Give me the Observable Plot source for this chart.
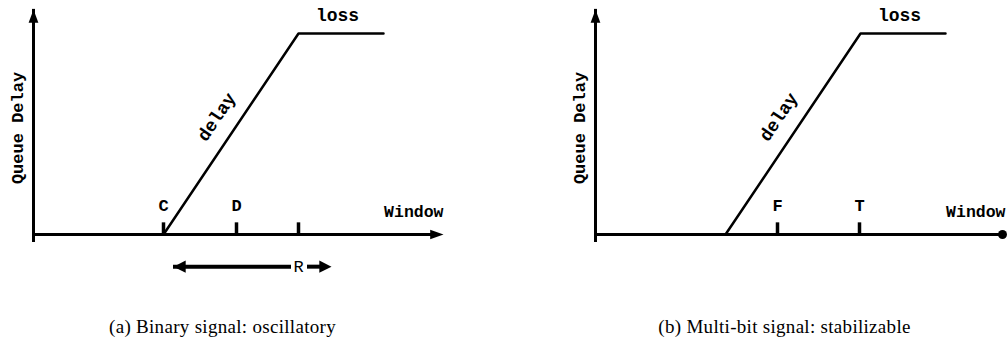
<!DOCTYPE html>
<html>
<head>
<meta charset="utf-8">
<script src="https://cdn.jsdelivr.net/npm/d3@7"></script>
<script src="https://cdn.jsdelivr.net/npm/@observablehq/plot@0.6"></script>
<style>
  html, body { margin: 0; padding: 0; background: #fff; }
  #figure { position: relative; width: 1007px; height: 344px; overflow: hidden; }
  .panel { position: absolute; top: 0; width: 445px; }
  .panel svg { display: block; overflow: visible; }
  .caption {
    margin-top: 16px;
    text-align: center;
    font-family: "Liberation Serif", "DejaVu Serif", serif;
    font-size: 19px;
    letter-spacing: 0.3px;
    line-height: 22px;
    color: #000;
    white-space: nowrap;
  }
</style>
</head>
<body>
<div id="figure"></div>
<script>
// Queue delay as a function of the congestion window: flat until the
// bottleneck fills, then rising linearly until the buffer overflows (loss).
const windowPts = [13, 26.5, 35];
const delayPts = [0, 10, 10];

// Axis extents (window units, delay units)
const windowMax = 41;
const delayMax = 11.2;

// Panel (a): binary signal marks
const ticksA = ["C", "D", ""];
const tickPosA = [13, 20.3, 26.5];
// The R marker slides back and forth between C and the loss point
const rArrow = [25, 14];      // tail, head
const rNudge = [27.4, 29.8];  // tail, head
const rLabel = ["R"];
const rLabelPos = [26.5];
const rLevel = -1.6;

// Panel (b): multi-bit signal marks
const ticksB = ["F", "T"];
const tickPosB = [18.2, 26.4];

const captions = [
  "(a) Binary signal: oscillatory",
  "(b) Multi-bit signal: stabilizable"
];

const curve = windowPts.map((w, i) => ({w, d: delayPts[i]}));
const mono = "'Liberation Mono', 'DejaVu Sans Mono', monospace";

// Filled arrowheads with the tip at the symbol origin, pointing up.
function headSymbol(len, half) {
  return {
    draw(ctx, size) {
      const s = Math.sqrt(size);
      ctx.moveTo(0, 0);
      ctx.lineTo(-s * half, s * len);
      ctx.lineTo(s * half, s * len);
      ctx.closePath();
    }
  };
}
const axisHead = headSymbol(1.5, 0.55);
const bigHead = headSymbol(1.25, 0.62);

const txt = (extra) => ({fontFamily: mono, fontWeight: "bold", fill: "#000", ...extra});

function panel({ticks, tickPos, axisEnd, extras}) {
  const tickData = tickPos.map((x, i) => ({x, label: ticks[i]}));
  const origin = [{x: 0, y: 0}];
  return Plot.plot({
    width: 445,
    height: 300,
    margin: 0,
    x: {domain: [0, windowMax], range: [33, 443], axis: null},
    y: {domain: [0, 10], range: [234, 33], axis: null},
    marks: [
      // vertical axis with arrowhead
      Plot.ruleX(origin, {x: "x", y1: 0, y2: delayMax, insetTop: 8, stroke: "#000", strokeWidth: 3}),
      Plot.dot(origin, {x: "x", y: () => delayMax, r: 5, symbol: axisHead, fill: "#000", stroke: "none"}),
      // horizontal axis, ending in an arrowhead or a dot
      Plot.ruleY(origin, {y: "y", x1: 0, x2: windowMax, insetRight: axisEnd === "arrow" ? 8 : 3, stroke: "#000", strokeWidth: 3}),
      axisEnd === "arrow"
        ? Plot.dot(origin, {x: () => windowMax, y: "y", r: 5, symbol: axisHead, rotate: 90, fill: "#000", stroke: "none"})
        : Plot.dot(origin, {x: () => windowMax, y: "y", dx: -3, r: 4.5, fill: "#000", stroke: "none"}),
      // tick marks on the window axis
      Plot.ruleX(tickData, {x: "x", y1: 0, y2: 0.58, stroke: "#000", strokeWidth: 3.5}),
      Plot.text(tickData, txt({x: "x", y: 0, text: "label", dy: -29, fontSize: 17})),
      // delay curve
      Plot.line(curve, {x: "w", y: "d", stroke: "#000", strokeWidth: 2.5}),
      Plot.text(["delay"], txt({x: 18.3, y: 5.85, text: d => d, rotate: -56, fontSize: 18})),
      Plot.text(["loss"], txt({x: 30.4, y: 10, text: d => d, dy: -18, fontSize: 18})),
      // axis titles
      Plot.text(["Window"], txt({x: windowMax, y: 0, text: d => d, dy: -23, textAnchor: "end", fontSize: 16.5})),
      Plot.text(["Queue Delay"], txt({x: 0, y: 5.3, text: d => d, dx: -16, rotate: -90, fontSize: 17})),
      ...(extras || [])
    ]
  });
}

const extrasA = [
  Plot.ruleY([0], {x1: rArrow[0], x2: rArrow[1], y: rLevel, insetLeft: 8, stroke: "#000", strokeWidth: 4}),
  Plot.dot([0], {x: rArrow[1], y: rLevel, r: 5.5, symbol: bigHead, rotate: -90, fill: "#000", stroke: "none"}),
  Plot.ruleY([0], {x1: rNudge[0], x2: rNudge[1], y: rLevel, insetRight: 6, stroke: "#000", strokeWidth: 4}),
  Plot.dot([0], {x: rNudge[1], y: rLevel, r: 5.5, symbol: bigHead, rotate: 90, fill: "#000", stroke: "none"}),
  Plot.text(rLabel, txt({x: (d, i) => rLabelPos[i], y: rLevel, text: d => d, fontSize: 17, fontWeight: "normal"}))
];

const fig = document.getElementById("figure");
const specs = [
  {left: 0, ticks: ticksA, tickPos: tickPosA, axisEnd: "arrow", extras: extrasA},
  {left: 562, ticks: ticksB, tickPos: tickPosB, axisEnd: "dot", extras: []}
];
specs.forEach((s, i) => {
  const div = document.createElement("div");
  div.className = "panel";
  div.style.left = s.left + "px";
  div.appendChild(panel(s));
  const cap = document.createElement("div");
  cap.className = "caption";
  cap.textContent = captions[i];
  div.appendChild(cap);
  fig.appendChild(div);
});
</script>
</body>
</html>
